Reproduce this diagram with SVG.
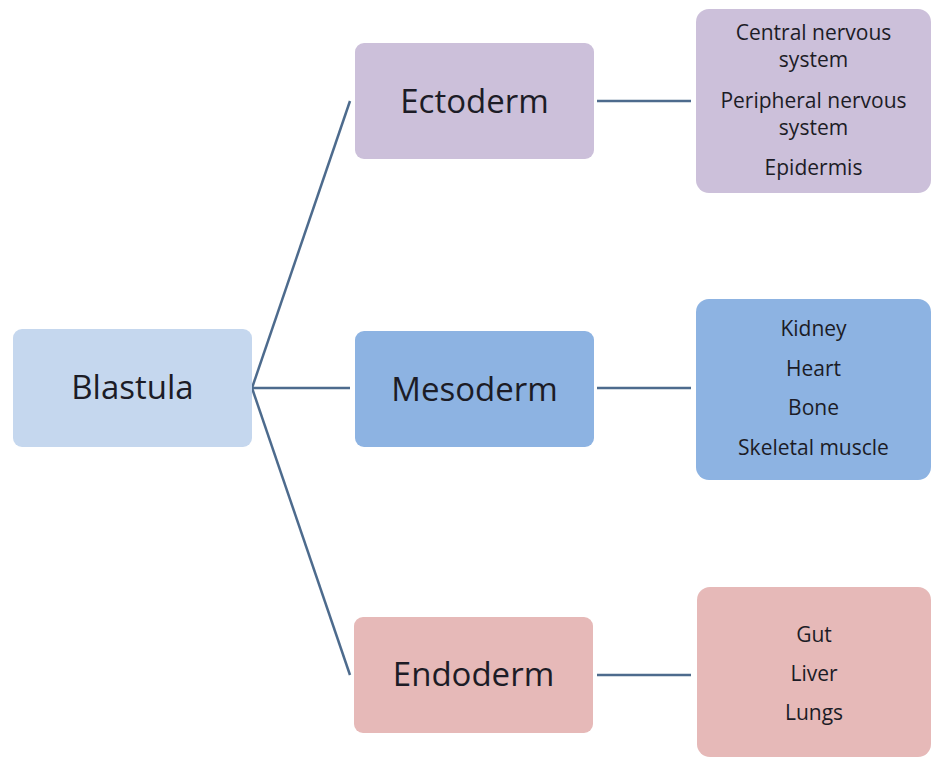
<svg xmlns="http://www.w3.org/2000/svg" width="932" height="760" viewBox="0 0 932 760">
<style>
.big{font-family:"Open Sans","Liberation Sans",sans-serif;font-size:33px;fill:#1c1c26;text-anchor:middle}
.sm{font-family:"Open Sans","Liberation Sans",sans-serif;font-size:21px;fill:#1c1c26;text-anchor:middle}
.ln{stroke:#4d6b8d;stroke-width:2.5;fill:none}
.ecto{fill:#ccc0da}
.meso{fill:#8db3e2}
.endo{fill:#e6b9b8}
</style>
<rect width="932" height="760" fill="#ffffff"/>
<g id="connectors">
<line class="ln" x1="252" y1="388" x2="350" y2="101"/>
<line class="ln" x1="252" y1="388" x2="350" y2="388"/>
<line class="ln" x1="252" y1="388" x2="350" y2="675"/>
<line class="ln" x1="597" y1="101" x2="691" y2="101"/>
<line class="ln" x1="597" y1="388" x2="691" y2="388"/>
<line class="ln" x1="597" y1="675" x2="691" y2="675"/>
</g>
<g id="blastula">
<rect x="13" y="329" width="239" height="118" rx="9" fill="#c5d7ee"/>
<text class="big" x="132.5" y="399">Blastula</text>
</g>
<g id="ectoderm">
<rect class="ecto" x="355" y="43" width="239" height="116" rx="9"/>
<text class="big" x="474.5" y="113">Ectoderm</text>
</g>
<g id="mesoderm">
<rect class="meso" x="355" y="331" width="239" height="116" rx="9"/>
<text class="big" x="474.5" y="401">Mesoderm</text>
</g>
<g id="endoderm">
<rect class="endo" x="354" y="617" width="239" height="116" rx="9"/>
<text class="big" x="473.5" y="686">Endoderm</text>
</g>
<g id="ecto-list">
<rect class="ecto" x="696" y="9" width="235" height="184" rx="13"/>
<text class="sm" x="813.5" y="40">Central nervous</text>
<text class="sm" x="813.5" y="67">system</text>
<text class="sm" x="813.5" y="108">Peripheral nervous</text>
<text class="sm" x="813.5" y="135">system</text>
<text class="sm" x="813.5" y="175">Epidermis</text>
</g>
<g id="meso-list">
<rect class="meso" x="696" y="299" width="235" height="181" rx="13"/>
<text class="sm" x="813.5" y="336">Kidney</text>
<text class="sm" x="813.5" y="376">Heart</text>
<text class="sm" x="813.5" y="415">Bone</text>
<text class="sm" x="813.5" y="455">Skeletal muscle</text>
</g>
<g id="endo-list">
<rect class="endo" x="697" y="587" width="234" height="170" rx="13"/>
<text class="sm" x="814" y="642">Gut</text>
<text class="sm" x="814" y="681">Liver</text>
<text class="sm" x="814" y="720">Lungs</text>
</g>
</svg>
